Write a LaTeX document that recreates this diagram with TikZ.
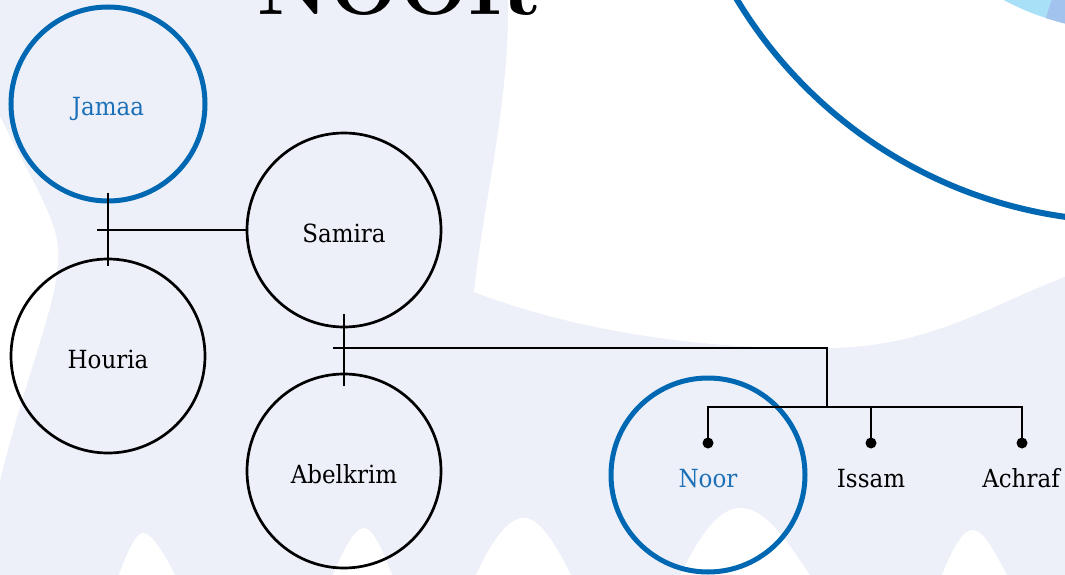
\documentclass[tikz,border=0pt]{standalone}
\usepackage{fontspec}
\newfontfamily\lblfont{DejaVu Serif}[FakeStretch=0.92]
\definecolor{lav}{RGB}{237,240,249}
\definecolor{nblue}{RGB}{0,104,178}
\definecolor{tblue}{RGB}{28,112,184}
\definecolor{skyb}{RGB}{168,224,248}
\definecolor{peri}{RGB}{161,195,238}
\tikzset{
  person/.style={circle, draw=black, line width=2.7pt, minimum size=194pt, inner sep=0pt,
    font=\lblfont\fontsize{25}{29}\selectfont, text=black, text height=24pt, text depth=0pt},
  focus/.style={person, draw=nblue, line width=5pt, text=tblue},
  childtext/.style={inner sep=0pt, font=\lblfont\fontsize{25}{29}\selectfont, text=black,
    text height=24pt, text depth=0pt},
  link/.style={line width=2.7pt, draw=black},
  blob/.style={fill=white},
  childdot/.style={fill=black},
}
\begin{document}
\begin{tikzpicture}[x=1pt,y=-1pt]
\useasboundingbox (0,0) rectangle (1065,575);
\clip (0,0) rectangle (1065,575);
% background
\fill[lav] (0,0) rectangle (1065,575);
% white regions
\fill[blob] (-2,112) .. controls (20,160) and (50,205) .. (57,240)
  .. controls (66,290) and (25,370) .. (-2,490) -- cycle;
\fill[blob] (508,-2) -- (1067,-2) -- (1067,276)
  .. controls (990,305) and (930,347) .. (828,348)
  .. controls (740,350) and (600,340) .. (474,292)
  .. controls (484,200) and (510,100) .. (508,-2) -- cycle;
% bottom bumps
\fill[blob] (118,577) .. controls (128,550) and (136,533) .. (143,533)
  .. controls (152,533) and (165,555) .. (176,577) -- cycle;
\fill[blob] (332,577) .. controls (343,550) and (355,528) .. (364,528)
  .. controls (374,528) and (384,555) .. (393,577) -- cycle;
\fill[blob] (475,577) .. controls (492,540) and (508,518) .. (524,518)
  .. controls (540,518) and (556,545) .. (572,577) -- cycle;
\fill[blob] (679,577) .. controls (698,540) and (716,508) .. (741,508)
  .. controls (766,508) and (790,545) .. (811,577) -- cycle;
\fill[blob] (941,577) .. controls (952,550) and (962,530) .. (973,530)
  .. controls (984,530) and (996,555) .. (1008,577) -- cycle;
% big circle at top right
\coordinate (bc) at (1129.4,-236.7);
\fill[skyb] (bc) circle (268);
\begin{scope}
  \clip (bc) circle (268);
  \fill[peri] (bc) -- (942,334) -- (1500,334) -- (1500,-600) -- cycle;
\end{scope}
\draw[nblue, line width=6pt] (bc) circle (458);
% title
\node[anchor=base, inner sep=0pt, font=\fontsize{82}{82}\selectfont\bfseries] (title) at (397.5,15) {NOOR};
% people
\node[focus] (jamaa) at (108,104) {Jamaa};
\node[person] (samira) at (344,230) {Samira};
\node[person] (houria) at (108,356) {Houria};
\node[person] (abelkrim) at (344,471) {Abelkrim};
\node[focus] (noor) at (708,475) {Noor};
\node[childtext] (issam) at (871,475) {Issam};
\node[childtext] (achraf) at (1021,475) {Achraf};
% couple 1
\coordinate (m1) at (97,230);
\draw[link] ([yshift=11pt]jamaa.south) -- ([yshift=-8pt]houria.north);
\draw[link] (m1) -- (samira.west);
% couple 2
\coordinate (m2) at (333,348);
\coordinate (c1) at (827,348);
\coordinate (c2) at (827,407);
\coordinate (b1) at (708,407);
\coordinate (b3) at (1022,407);
\coordinate (b2) at (871,407);
\coordinate (d1) at (708,443);
\coordinate (d2) at (871,443);
\coordinate (d3) at (1022,443);
\draw[link] ([yshift=14pt]samira.south) -- ([yshift=-13pt]abelkrim.north);
\draw[link] (m2) -- (c1) -- (c2);
\draw[link] (d1) -- (b1) -- (b3) -- (d3);
\draw[link] (b2) -- (d2);
\fill[childdot] (d1) circle (5.5);
\fill[childdot] (d2) circle (5.5);
\fill[childdot] (d3) circle (5.5);
\end{tikzpicture}
\end{document}
